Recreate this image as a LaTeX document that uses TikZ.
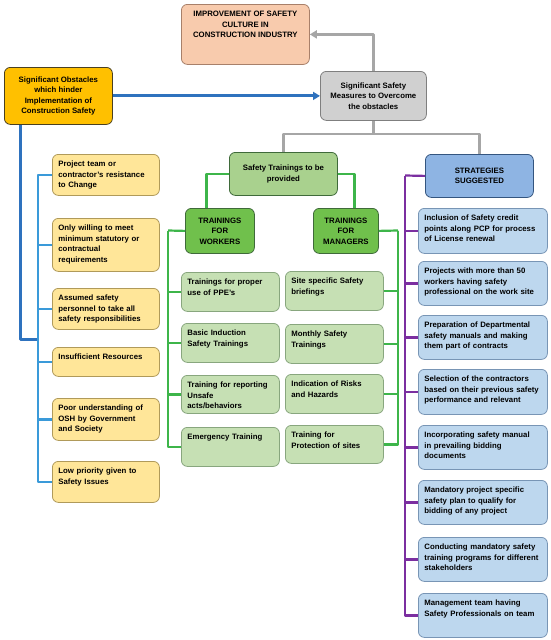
\documentclass[tikz,border=0pt]{standalone}
\usepackage{fontspec}
\setmainfont{Liberation Sans}
\usepackage{tikz}
\usetikzlibrary{arrows.meta}
\definecolor{impfill}{HTML}{F8CBAD}
\definecolor{impbord}{HTML}{A8806A}
\definecolor{obsfill}{HTML}{FFC000}
\definecolor{obsbord}{HTML}{4A4020}
\definecolor{measfill}{HTML}{D0D0D0}
\definecolor{measbord}{HTML}{7F7F7F}
\definecolor{yelfill}{HTML}{FFE699}
\definecolor{yelbord}{HTML}{B09A5A}
\definecolor{trfill}{HTML}{A9D18E}
\definecolor{trbord}{HTML}{3F6A3A}
\definecolor{wkfill}{HTML}{70C04C}
\definecolor{wkbord}{HTML}{3E7A2E}
\definecolor{grnfill}{HTML}{C6E0B4}
\definecolor{grnbord}{HTML}{88A67E}
\definecolor{stfill}{HTML}{8EB4E3}
\definecolor{stbord}{HTML}{34557F}
\definecolor{sbfill}{HTML}{BDD7EE}
\definecolor{sbbord}{HTML}{7895B5}
\definecolor{mainblue}{HTML}{2E72BE}
\definecolor{busblue}{HTML}{3A9AD9}
\definecolor{busgreen}{HTML}{3DB54A}
\definecolor{buspurple}{HTML}{7B2FA0}
\definecolor{busgray}{HTML}{A6A6A6}
\newcommand{\dfont}{\fontsize{7.8}{10.5}\selectfont\bfseries}
\newcommand{\topfill}[2]{\parbox[c][#1][t]{\linewidth}{\raggedright\strut#2}}

\begin{document}
\begin{tikzpicture}[x=1pt, y=-1pt, line join=round]
  \tikzset{
    base/.style={rounded corners=6pt, anchor=north west, font=\dfont, line width=0.8pt},
    hdr/.style={base, align=center, inner sep=2pt},
    lst/.style={base, inner xsep=6pt, inner ysep=5pt, align=left},
    yel/.style={lst, draw=yelbord, fill=yelfill, minimum width=107pt, text width=95pt},
    grn/.style={lst, draw=grnbord, fill=grnfill, minimum width=98pt, text width=86pt},
    sbox/.style={lst, draw=sbbord, fill=sbfill, minimum width=129pt, text width=117pt},
    ln/.style={line width=2.2pt},
    thk/.style={line width=3pt},
    arr/.style={-{Triangle[length=7pt, width=8pt]}}
  }
  \useasboundingbox (0,0) rectangle (550,640);

  % - Top row ---
  \node[hdr, draw=impbord, fill=impfill, inner sep=5pt, minimum width=128pt, minimum height=60pt] (imp) at (181,4)
    {\parbox[c][50pt][t]{118pt}{\centering\strut IMPROVEMENT OF SAFETY\\CULTURE IN\\CONSTRUCTION INDUSTRY}};
  \node[hdr, draw=obsbord, fill=obsfill, minimum width=108pt, minimum height=57pt] (obs) at (4,67)
    {Significant Obstacles\\which hinder\\Implementation of\\Construction Safety};
  \node[hdr, draw=measbord, fill=measfill, minimum width=106pt, minimum height=49pt] (meas) at (320,71)
    {Significant Safety\\Measures to Overcome\\the obstacles};

  % - Second row ---
  \node[hdr, draw=trbord, fill=trfill, minimum width=108pt, minimum height=43pt] (train) at (229,152)
    {Safety Trainings to be\\provided};
  \node[hdr, draw=trbord, fill=wkfill, minimum width=69pt, minimum height=45pt] (work) at (185,208)
    {TRAININGS\\FOR\\WORKERS};
  \node[hdr, draw=trbord, fill=wkfill, minimum width=65pt, minimum height=45pt] (mgr) at (313,208)
    {TRAININGS\\FOR\\MANAGERS};
  \node[hdr, draw=stbord, fill=stfill, minimum width=108pt, minimum height=43pt] (strat) at (425,154)
    {STRATEGIES\\SUGGESTED};

  % - Obstacles ---
  \node[yel] (o1) at (52,154) {\topfill{31pt}{Project team or\\contractor's resistance\\to Change}};
  \node[yel] (o2) at (52,218) {\topfill{43pt}{Only willing to meet\\minimum statutory or\\contractual\\requirements}};
  \node[yel] (o3) at (52,288) {\topfill{31pt}{Assumed safety\\personnel to take all\\safety responsibilities}};
  \node[yel] (o4) at (52,347) {\topfill{19pt}{Insufficient Resources}};
  \node[yel] (o5) at (52,398) {\topfill{32pt}{Poor understanding of\\OSH by Government\\and Society}};
  \node[yel] (o6) at (52,461) {\topfill{31pt}{Low priority given to\\Safety Issues}};

  % - Trainings for workers ---
  \node[grn] (w1) at (181,272) {\topfill{29pt}{Trainings for proper\\use of PPE's}};
  \node[grn] (w2) at (181,323) {\topfill{29pt}{Basic Induction\\Safety Trainings}};
  \node[grn] (w3) at (181,375) {\topfill{28pt}{Training for reporting\\Unsafe\\acts/behaviors}};
  \node[grn] (w4) at (181,427) {\topfill{29pt}{Emergency Training}};

  % - Trainings for managers ---
  \node[grn] (m1) at (285,271) {\topfill{29pt}{Site specific Safety\\briefings}};
  \node[grn] (m2) at (285,324) {\topfill{29pt}{Monthly Safety\\Trainings}};
  \node[grn] (m3) at (285,374) {\topfill{29pt}{Indication of Risks\\and Hazards}};
  \node[grn] (m4) at (285,425) {\topfill{28pt}{Training for\\Protection of sites}};

  % - Strategies ---
  \node[sbox] (s1) at (418,208) {\topfill{35pt}{Inclusion of Safety credit\\points along PCP for process\\of License renewal}};
  \node[sbox] (s2) at (418,261) {\topfill{34pt}{Projects with more than 50\\workers having safety\\professional on the work site}};
  \node[sbox] (s3) at (418,315) {\topfill{34pt}{Preparation of Departmental\\safety manuals and making\\them part of contracts}};
  \node[sbox] (s4) at (418,369) {\topfill{35pt}{Selection of the contractors\\based on their previous safety\\performance and relevant}};
  \node[sbox] (s5) at (418,425) {\topfill{34pt}{Incorporating safety manual\\in prevailing bidding\\documents}};
  \node[sbox] (s6) at (418,480) {\topfill{34pt}{Mandatory project specific\\safety plan to qualify for\\bidding of any project}};
  \node[sbox] (s7) at (418,537) {\topfill{34pt}{Conducting mandatory safety\\training programs for different\\stakeholders}};
  \node[sbox] (s8) at (418,593) {\topfill{34pt}{Management team having\\Safety Professionals on team}};

  % - Bus points ---
  \coordinate (obus) at (38,339);
  \coordinate (wbus) at (168,230.5);
  \coordinate (mbus) at (398,230.5);
  \coordinate (sbus) at (405,175.5);

  % - Connectors ---
  \draw[thk, arr, mainblue] (obs.east) -- (meas.west);
  \draw[ln, arr, busgray] (meas.north) |- (imp.east);
  \draw[ln, busgray] (meas.south) -- ++(0,13) -| (train.north);
  \draw[ln, busgray] (meas.south) -- ++(0,13) -| (strat.north);

  \draw[thk, mainblue] ([xshift=16pt]obs.south west) |- (obus);
  \foreach \i in {1,...,6} \draw[ln, busblue] (obus) |- (o\i.west);

  \draw[ln, busgreen] (train.west) -| ([xshift=-13.5pt]work.north);
  \draw[ln, busgreen] (train.east) -| ([xshift=8.5pt]mgr.north);
  \draw[ln, busgreen] (work.west) -- (wbus);
  \foreach \i in {1,...,4} \draw[ln, busgreen] (wbus) |- (w\i.west);
  \draw[ln, busgreen] (mgr.east) -- (mbus);
  \foreach \i in {1,...,4} \draw[ln, busgreen] (mbus) |- (m\i.east);

  \draw[ln, buspurple] (strat.west) -- (sbus);
  \foreach \i in {1,...,8} \draw[ln, buspurple] (sbus) |- (s\i.west);

\end{tikzpicture}
\end{document}
